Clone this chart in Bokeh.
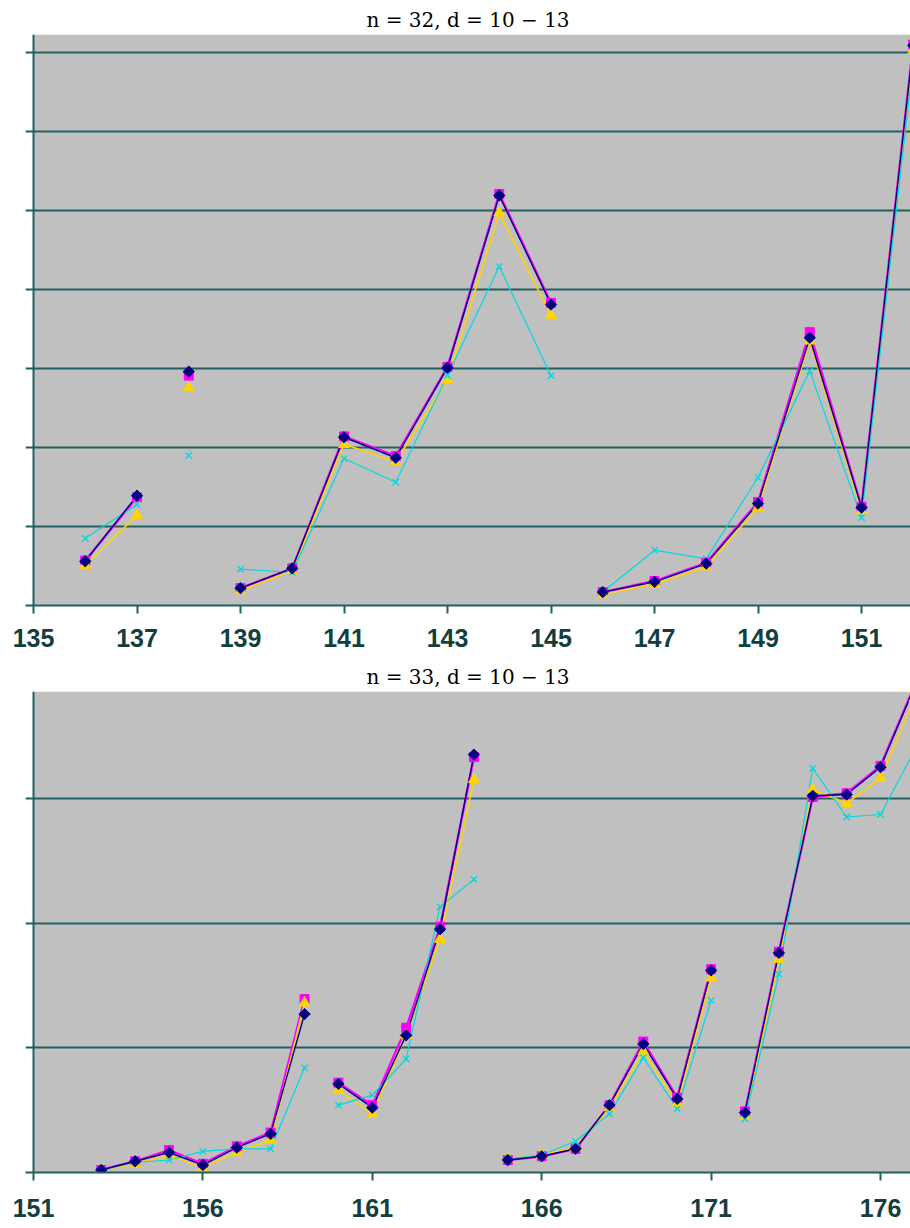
import math
from bokeh.plotting import figure
from bokeh.layouts import column
from bokeh.models import FixedTicker, Range1d, BoxAnnotation, Span
from bokeh.embed import file_html
from bokeh.resources import INLINE

# ---------------- data ----------------
top_title = "n = 32, d = 10 − 13"
top_x = list(range(136, 153))
top_magenta = [0.57, 1.37, 2.91, 0.22, 0.47, 2.14, 1.89, 3.02, 5.21, 3.83, 0.17, 0.31, 0.54, 1.31, 3.46, 1.25, 7.10]
top_yellow = [0.51, 1.14, 2.76, 0.19, 0.44, 2.04, 1.82, 2.86, 4.97, 3.67, 0.14, 0.27, 0.49, 1.24, 3.35, 1.20, 7.03]
top_cyan = [0.85, 1.28, 1.90, 0.46, 0.42, 1.86, 1.56, 2.91, 4.29, 2.91, 0.17, 0.70, 0.59, 1.62, 2.97, 1.11, 6.90]
top_navy = [0.56, 1.39, 2.96, 0.22, 0.47, 2.13, 1.87, 3.01, 5.19, 3.81, 0.17, 0.30, 0.53, 1.29, 3.39, 1.24, 7.09]
top_breaks = [137, 138, 145]          # line is interrupted after these x values
top_xticks = [135, 137, 139, 141, 143, 145, 147, 149, 151]
top_ygrid = [0, 1, 2, 3, 4, 5, 6, 7]

bot_title = "n = 33, d = 10 − 13"
bot_x = list(range(153, 178))
bot_magenta = [0.02, 0.09, 0.18, 0.07, 0.21, 0.32, 1.39, 0.72, 0.54, 1.16, 1.97, 3.33, 0.10, 0.13, 0.19, 0.54, 1.05, 0.60, 1.63, 0.49, 1.77, 3.01, 3.04, 3.26, 3.90]
bot_yellow = [0.02, 0.07, 0.14, 0.04, 0.16, 0.26, 1.36, 0.66, 0.47, 1.10, 1.87, 3.15, 0.11, 0.14, 0.20, 0.52, 0.97, 0.55, 1.56, 0.45, 1.71, 3.07, 2.96, 3.16, 3.80]
bot_cyan = [0.02, 0.08, 0.10, 0.17, 0.19, 0.19, 0.84, 0.54, 0.62, 0.91, 2.13, 2.35, 0.11, 0.14, 0.25, 0.47, 0.92, 0.51, 1.38, 0.43, 1.59, 3.24, 2.85, 2.87, 3.38]
bot_navy = [0.02, 0.09, 0.16, 0.06, 0.20, 0.31, 1.27, 0.71, 0.52, 1.10, 1.95, 3.35, 0.10, 0.13, 0.19, 0.54, 1.03, 0.59, 1.62, 0.48, 1.76, 3.02, 3.03, 3.25, 3.89]
bot_breaks = [159, 164, 171]
bot_xticks = [151, 156, 161, 166, 171, 176]
bot_ygrid = [0, 1, 2, 3]

# ---------------- styling ----------------
GRID = "#235f5f"
LABEL = "#123e3e"
BG = "#c0c0c0"
W = 910
LEFT = 25        # white strip left of the frame
TICK = 8         # y tick marks run left of the vertical axis


def runs(xs, ys, breaks):
    out, cx, cy = [], [], []
    for x, y in zip(xs, ys):
        cx.append(x)
        cy.append(y)
        if x in breaks:
            out.append((cx, cy))
            cx, cy = [], []
    if cx:
        out.append((cx, cy))
    return out


def panel(title, xs, mag, yel, cya, nav, breaks, xticks, ygrid, x0, pxu, ytop, height,
          border_top, border_bottom, standoff):
    frame_w = W - LEFT
    xr = Range1d(x0 - TICK / pxu, x0 + (frame_w - TICK) / pxu)
    p = figure(width=W, height=height, output_backend="svg", toolbar_location=None,
               x_range=xr, y_range=Range1d(0, ytop),
               min_border_left=LEFT, min_border_right=0,
               min_border_top=border_top, min_border_bottom=border_bottom)
    p.title.text = title
    p.title.align = "center"
    p.title.text_font = "DejaVu Serif"
    p.title.text_font_style = "normal"
    p.title.text_font_size = "20px"
    p.title.text_color = "#000000"
    p.title.standoff = 5
    p.background_fill_color = "white"
    p.border_fill_color = "white"
    p.outline_line_color = None
    p.add_layout(BoxAnnotation(left=x0, fill_color=BG, fill_alpha=1.0, line_color=None, level="image"))

    p.xgrid.visible = False
    p.ygrid.ticker = FixedTicker(ticks=ygrid)
    p.ygrid.grid_line_color = GRID
    p.ygrid.grid_line_width = 2

    p.xaxis.ticker = FixedTicker(ticks=xticks)
    p.xaxis.axis_line_color = GRID
    p.xaxis.axis_line_width = 2
    p.xaxis.major_tick_line_color = GRID
    p.xaxis.major_tick_line_width = 2
    p.xaxis.major_tick_in = 0
    p.xaxis.major_tick_out = 8
    p.xaxis.minor_tick_line_color = None
    p.xaxis.major_label_text_font = "Liberation Sans"
    p.xaxis.major_label_text_font_size = "25px"
    p.xaxis.major_label_text_font_style = "bold"
    p.xaxis.major_label_text_color = LABEL
    p.xaxis.major_label_standoff = standoff

    p.yaxis.visible = False
    p.add_layout(Span(location=x0, dimension="height", line_color=GRID, line_width=2))

    series = [
        (mag, "#ff00ff", 2.4, "square", 9, 0.0),
        (yel, "#ffd400", 1.6, "triangle", 11, 0.0),
        (cya, "#00d8e0", 1.2, "x", 9, 0.0),
        (nav, "#000080", 1.4, "square", 8, math.pi / 4),
    ]
    for ys, col, lw, mk, sz, ang in series:
        for rx, ry in runs(xs, ys, breaks):
            if len(rx) > 1:
                p.line(rx, ry, line_color=col, line_width=lw)
    for ys, col, lw, mk, sz, ang in series:
        if mk == "x":
            p.scatter(xs, ys, marker=mk, size=sz, line_color=col, line_width=1.3)
        else:
            p.scatter(xs, ys, marker=mk, size=sz, angle=ang, fill_color=col,
                      line_color=col, line_width=1.0)
    return p


p1 = panel(top_title, top_x, top_magenta, top_yellow, top_cyan, top_navy, top_breaks,
           top_xticks, top_ygrid, 135, 51.75, 571 / 79, 660, 34, 55, 15)
p2 = panel(bot_title, bot_x, bot_magenta, bot_yellow, bot_cyan, bot_navy, bot_breaks,
           bot_xticks, bot_ygrid, 151, 33.88, 482 / 125, 568, 30, 56, 18)

layout = column(p1, p2, spacing=0)
open("out.html", "w").write(file_html(layout, INLINE))
